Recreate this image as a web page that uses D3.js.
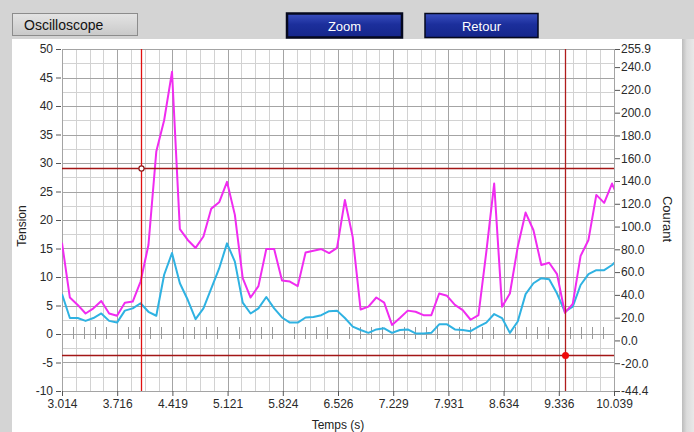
<!DOCTYPE html>
<html>
<head>
<meta charset="utf-8">
<script src="https://cdn.jsdelivr.net/npm/d3@7/dist/d3.min.js"></script>
<style>
    body { margin: 0; background: #d4d4d4; }
    svg { display: block; font-family: "Liberation Sans", Arial, sans-serif; }
</style>
</head>
<body>
<script>
const tempsDebut = 3.014
const tempsFin = 10.039
const pasTemps = 0.1

const tempsLabels = ["3.014", "3.716", "4.419", "5.121", "5.824", "6.526", "7.229", "7.931", "8.634", "9.336", "10.039"]
const tensionTicks = [50, 45, 40, 35, 30, 25, 20, 15, 10, 5, 0, -5, -10]
const courantTicks = [255.9, 240, 220, 200, 180, 160, 140, 120, 100, 80, 60, 40, 20, 0, -20, -44.4]

const serieMagenta = [16.0, 6.4, 5.1, 3.6, 4.5, 5.8, 3.6, 3.2, 5.5, 5.7,
    9.2, 15.6, 32.0, 37.5, 46.0, 18.4, 16.5, 15.1, 17.1, 22.0,
    23.1, 26.7, 20.9, 9.8, 6.4, 8.4, 14.9, 14.9, 9.4, 9.2,
    8.4, 14.3, 14.6, 14.9, 14.2, 15.1, 23.5, 17.0, 4.3, 4.8,
    6.4, 5.5, 1.6, 2.8, 4.1, 3.9, 3.3, 3.3, 7.1, 6.7,
    5.1, 4.2, 2.5, 3.3, 14.4, 26.4, 4.8, 7.1, 15.3, 21.3,
    18.2, 12.1, 12.5, 10.5, 3.7, 5.3, 13.7, 16.5, 24.4, 23.0,
    26.4, 23.1]

const serieCyan = [7.0, 2.8, 2.8, 2.3, 2.8, 3.6, 2.3, 2.0, 4.1, 4.5,
    5.4, 3.9, 3.2, 10.4, 14.2, 8.9, 6.0, 2.6, 4.5, 8.0,
    11.5, 15.9, 12.7, 5.5, 3.6, 4.5, 6.5, 4.5, 2.9, 2.0,
    2.0, 2.9, 3.0, 3.3, 4.0, 4.1, 2.8, 1.3, 0.7, 0.2,
    0.8, 1.0, 0.2, 0.7, 0.8, 0.1, 0.1, 0.2, 1.7, 1.7,
    0.8, 0.7, 0.5, 1.3, 2.0, 3.5, 2.8, 0.2, 2.2, 7.0,
    8.9, 9.8, 9.6, 7.1, 3.9, 4.8, 8.6, 10.5, 11.2, 11.2,
    12.1, 13.4]

const curseurTemps = [4.019, 9.415]
const curseurTension = [29.1, -3.7]

/* Dimensions */
const svgWidth = 694
const svgHeight = 432
const plotLeft = 62
const plotRight = 614
const plotTop = 49
const plotBottom = 391

const svg = d3.select("body").append("svg")
    .attr("width", svgWidth)
    .attr("height", svgHeight)

const defs = svg.append("defs")

const gradBleu = defs.append("linearGradient").attr("id", "grad-bleu").attr("x1", 0).attr("y1", 0).attr("x2", 0).attr("y2", 1)
gradBleu.append("stop").attr("offset", "0%").attr("stop-color", "#3a4fc0")
gradBleu.append("stop").attr("offset", "45%").attr("stop-color", "#1c2f9c")
gradBleu.append("stop").attr("offset", "100%").attr("stop-color", "#15268a")

const gradGris = defs.append("linearGradient").attr("id", "grad-gris").attr("x1", 0).attr("y1", 0).attr("x2", 0).attr("y2", 1)
gradGris.append("stop").attr("offset", "0%").attr("stop-color", "#e4e4e4")
gradGris.append("stop").attr("offset", "100%").attr("stop-color", "#c9c9c9")

const gradBord = defs.append("linearGradient").attr("id", "grad-bord").attr("x1", 0).attr("y1", 0).attr("x2", 1).attr("y2", 0)
gradBord.append("stop").attr("offset", "0%").attr("stop-color", "#bcbcbc")
gradBord.append("stop").attr("offset", "40%").attr("stop-color", "#dcdcdc")
gradBord.append("stop").attr("offset", "100%").attr("stop-color", "#e8e8e8")

defs.append("clipPath").attr("id", "clip-plot")
    .append("rect")
    .attr("x", plotLeft).attr("y", plotTop)
    .attr("width", plotRight - plotLeft).attr("height", plotBottom - plotTop)

/* Fond et boutons */
svg.append("rect").attr("width", svgWidth).attr("height", svgHeight).attr("fill", "#d4d4d4")
svg.append("rect").attr("x", 12).attr("y", 39).attr("width", 670).attr("height", svgHeight - 39).attr("fill", "#ffffff")
svg.append("rect").attr("x", 682).attr("y", 39).attr("width", 12).attr("height", svgHeight - 39).attr("fill", "url(#grad-bord)")

svg.append("rect")
    .attr("x", 12.5).attr("y", 13.5).attr("width", 125).attr("height", 22)
    .attr("fill", "url(#grad-gris)").attr("stroke", "#8c8c8c")
svg.append("text").attr("x", 24).attr("y", 30)
    .attr("font-size", 14).attr("fill", "#111").text("Oscilloscope")

const boutons = [
    { label: "Zoom", x: 287, w: 115, bord: 2.5 },
    { label: "Retour", x: 425, w: 113, bord: 1.5 }
]
boutons.forEach((b) => {
    svg.append("rect")
        .attr("x", b.x).attr("y", 13.5).attr("width", b.w).attr("height", 24)
        .attr("fill", "url(#grad-bleu)").attr("stroke", "#05081e").attr("stroke-width", b.bord)
    svg.append("text")
        .attr("x", b.x + b.w / 2).attr("y", 30.5)
        .attr("text-anchor", "middle").attr("font-size", 13).attr("fill", "#ffffff")
        .text(b.label)
})

/* Echelles */
const xScale = d3.scaleLinear().domain([tempsDebut, tempsFin]).range([plotLeft, plotRight])
const yScale = d3.scaleLinear().domain([-10, 50]).range([plotBottom, plotTop])
const yCourant = d3.scaleLinear().domain([-44.4, 255.9]).range([plotBottom, plotTop])

const pasMajeur = (tempsFin - tempsDebut) / (tempsLabels.length - 1)
const tempsMajeurs = tempsLabels.map((d, i) => tempsDebut + i * pasMajeur)
const tempsMineurs = d3.range(0, (tempsLabels.length - 1) * 4 + 1).map((i) => tempsDebut + i * pasMajeur / 4)
const tensionMineurs = d3.range(-10, 50.1, 2.5)

/* Grille */
const grille = svg.append("g")
grille.selectAll(".vmin").data(tempsMineurs).enter().append("line")
    .attr("x1", (d) => Math.round(xScale(d)) + 0.5).attr("x2", (d) => Math.round(xScale(d)) + 0.5)
    .attr("y1", plotTop).attr("y2", plotBottom)
    .attr("stroke", "#d2d2d2")
grille.selectAll(".hmin").data(tensionMineurs).enter().append("line")
    .attr("x1", plotLeft).attr("x2", plotRight)
    .attr("y1", (d) => Math.round(yScale(d)) + 0.5).attr("y2", (d) => Math.round(yScale(d)) + 0.5)
    .attr("stroke", "#d2d2d2")
grille.selectAll(".vmaj").data(tempsMajeurs).enter().append("line")
    .attr("x1", (d) => Math.round(xScale(d)) + 0.5).attr("x2", (d) => Math.round(xScale(d)) + 0.5)
    .attr("y1", plotTop).attr("y2", plotBottom)
    .attr("stroke", "#a4a4a4")
grille.selectAll(".hmaj").data(tensionTicks).enter().append("line")
    .attr("x1", plotLeft).attr("x2", plotRight)
    .attr("y1", (d) => Math.round(yScale(d)) + 0.5).attr("y2", (d) => Math.round(yScale(d)) + 0.5)
    .attr("stroke", "#a4a4a4")

/* Petits repères sur le zéro */
const reperes = d3.range(0, (tempsLabels.length - 1) * 5).filter((i) => i % 5 !== 0).map((i) => tempsDebut + i * pasMajeur / 5)
grille.selectAll(".repere").data(reperes).enter().append("line")
    .attr("x1", (d) => Math.round(xScale(d)) + 0.5).attr("x2", (d) => Math.round(xScale(d)) + 0.5)
    .attr("y1", yScale(0) - 7).attr("y2", yScale(0) + 5)
    .attr("stroke", "#9a9a9a")

/* Axes */
const xAxis = d3.axisBottom(xScale).tickValues(tempsMajeurs).tickSize(5).tickPadding(3)
    .tickFormat((d, i) => tempsLabels[i])
const gx = svg.append("g").attr("transform", `translate(0, ${plotBottom})`).call(xAxis)

const yAxis = d3.axisLeft(yScale).tickValues(tensionTicks).tickSize(5).tickPadding(3)
    .tickFormat((d) => String(d))
const gy = svg.append("g").attr("transform", `translate(${plotLeft - 1}, 0)`).call(yAxis)

const yAxisDroite = d3.axisRight(yCourant).tickValues(courantTicks).tickSize(5).tickPadding(1)
    .tickFormat((d) => d.toFixed(1))
const gyd = svg.append("g").attr("transform", `translate(${plotRight + 1}, 0)`).call(yAxisDroite)

;[gx, gy, gyd].forEach((g) => {
    g.select(".domain").remove()
    g.selectAll(".tick line").attr("stroke", "#555")
    g.selectAll(".tick text").attr("fill", "#2a2a2a").attr("font-size", 12)
        .attr("font-family", "\"Liberation Sans\", Arial, sans-serif")
})

/* Titres des axes */
svg.append("text")
    .attr("transform", "translate(22, 226) rotate(-90)")
    .attr("text-anchor", "middle").attr("dominant-baseline", "central")
    .attr("font-size", 12).attr("fill", "#222").text("Tension")
svg.append("text")
    .attr("transform", "translate(667, 219) rotate(90)")
    .attr("text-anchor", "middle").attr("dominant-baseline", "central")
    .attr("font-size", 13).attr("fill", "#222").text("Courant")
svg.append("text")
    .attr("x", 338).attr("y", 429)
    .attr("text-anchor", "middle").attr("font-size", 12).attr("fill", "#222").text("Temps (s)")

/* Courbes */
const ligne = d3.line()
    .x((d, i) => xScale(tempsDebut + i * pasTemps))
    .y((d) => yScale(d))

const courbes = svg.append("g").attr("clip-path", "url(#clip-plot)")
courbes.append("path").datum(serieCyan)
    .attr("d", ligne).attr("fill", "none")
    .attr("stroke", "#2fb2e2").attr("stroke-width", 2).attr("stroke-linejoin", "round")
courbes.append("path").datum(serieMagenta)
    .attr("d", ligne).attr("fill", "none")
    .attr("stroke", "#f02cf0").attr("stroke-width", 2).attr("stroke-linejoin", "round")

/* Curseurs */
const curseurs = svg.append("g")
curseurs.selectAll(".ch").data(curseurTension).enter().append("line")
    .attr("x1", plotLeft).attr("x2", plotRight)
    .attr("y1", (d) => Math.round(yScale(d)) + 0.5).attr("y2", (d) => Math.round(yScale(d)) + 0.5)
    .attr("stroke", "#a31616").attr("stroke-width", 1.3)
curseurs.selectAll(".cv").data(curseurTemps).enter().append("line")
    .attr("x1", (d) => Math.round(xScale(d)) + 0.5).attr("x2", (d) => Math.round(xScale(d)) + 0.5)
    .attr("y1", plotTop).attr("y2", plotBottom)
    .attr("stroke", (d, i) => i === 0 ? "#e01010" : "#b01c1c").attr("stroke-width", 1.3)

curseurs.append("circle")
    .attr("cx", Math.round(xScale(curseurTemps[0])) + 0.5).attr("cy", Math.round(yScale(curseurTension[0])) + 0.5)
    .attr("r", 2.6).attr("fill", "#ffffff").attr("stroke", "#8a1a1a").attr("stroke-width", 1.2)
curseurs.append("circle")
    .attr("cx", Math.round(xScale(curseurTemps[1])) + 0.5).attr("cy", Math.round(yScale(curseurTension[1])) + 0.5)
    .attr("r", 3.5).attr("fill", "#ee0a0a")
</script>
</body>
</html>
